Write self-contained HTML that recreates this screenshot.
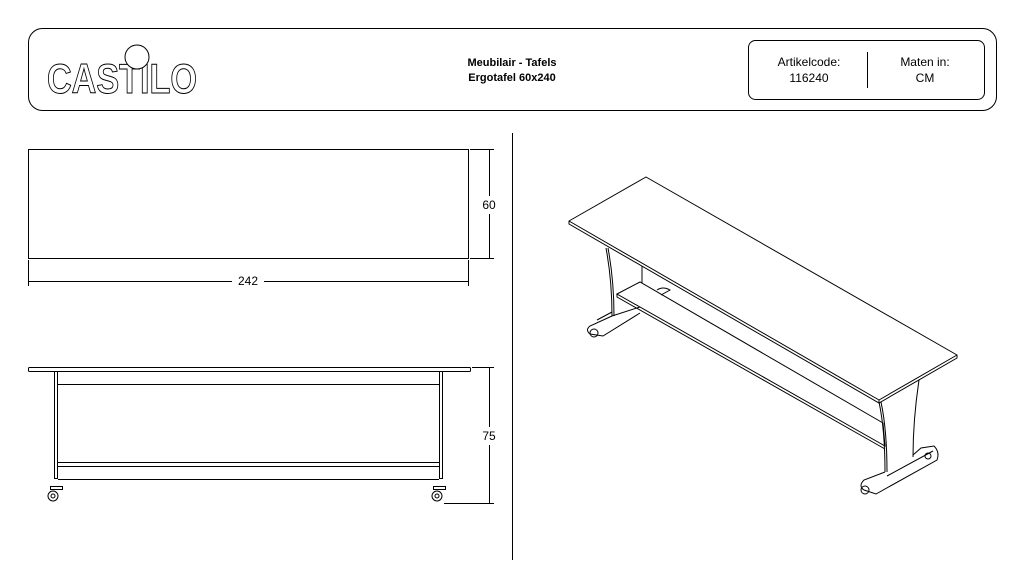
<!DOCTYPE html>
<html><head><meta charset="utf-8"><style>
body{margin:0;background:#fff;width:1024px;height:576px;overflow:hidden}
svg{display:block}
text{font-family:"Liberation Sans",Arial,sans-serif}
</style></head><body>
<svg width="1024" height="576" viewBox="0 0 1024 576" xmlns="http://www.w3.org/2000/svg">
<g fill="none" stroke="#000" stroke-width="1">
<rect x="28.5" y="28.5" width="968" height="82" rx="14"/>
<rect x="748.5" y="40.5" width="236" height="59" rx="7"/>
<line x1="867.5" y1="52" x2="867.5" y2="88"/>
<line x1="512.5" y1="133" x2="512.5" y2="560"/>
<!-- top view -->
<rect x="28.5" y="149.5" width="440" height="109"/>
<line x1="470" y1="149.5" x2="494" y2="149.5"/>
<line x1="470" y1="258.5" x2="494" y2="258.5"/>
<line x1="489.5" y1="150" x2="489.5" y2="196"/>
<line x1="489.5" y1="214" x2="489.5" y2="258"/>
<line x1="28.5" y1="260" x2="28.5" y2="286"/>
<line x1="468.5" y1="260" x2="468.5" y2="286"/>
<line x1="29" y1="281.5" x2="232" y2="281.5"/>
<line x1="264" y1="281.5" x2="468" y2="281.5"/>
<!-- side view -->
<rect x="28.5" y="367.5" width="442" height="4" rx="1"/>
<rect x="54.5" y="371.5" width="3" height="107"/>
<rect x="439.5" y="371.5" width="3" height="107"/>
<line x1="58" y1="384.5" x2="439" y2="384.5"/>
<line x1="58" y1="462.5" x2="439" y2="462.5"/>
<line x1="58" y1="466.5" x2="439" y2="466.5"/>
<line x1="58" y1="479.5" x2="439" y2="479.5"/>
<rect x="50.5" y="486.5" width="12" height="3"/>
<circle cx="53" cy="496" r="5"/><circle cx="53" cy="496" r="2"/>
<rect x="433.5" y="486.5" width="12" height="3"/>
<circle cx="437" cy="496" r="5"/><circle cx="437" cy="496" r="2"/>
<line x1="472" y1="367.5" x2="494" y2="367.5"/>
<line x1="444" y1="503.5" x2="494" y2="503.5"/>
<line x1="489.5" y1="368" x2="489.5" y2="427"/>
<line x1="489.5" y1="445" x2="489.5" y2="503"/>
<!-- iso -->
<path d="M569,221 L646,177 L957,355 L879,400 Z" stroke-linejoin="round"/>
<path d="M569,221 L569,224 L879,403 L957,358 L957,355"/>
<line x1="879" y1="400" x2="879" y2="403"/>
<path d="M606,248 Q612,280 612,316"/>
<path d="M608,248 Q614,280 614,316"/>
<line x1="642" y1="266" x2="642" y2="283"/>
<path d="M617,294 L640,282 L883,423 L885,446 Z"/>
<path d="M617,294 L617,297 L885,449"/>
<path d="M657,290 Q663,286 670,290 L661,295"/>
<path d="M612,316 L640,307 M597,320 L612,312 M612,316 L590,326 Q585,330 590,334 L603,336 L640,313"/>
<circle cx="594" cy="333" r="4"/>
<path d="M879,402 Q885,430 885,472"/>
<path d="M881,402 Q887,430 887,472"/>
<path d="M919,380 Q913,420 913,457"/>
<path d="M885,472 L864,480 Q858,486 864,490 L876,494 L937,460 Q940,452 934,446 L921,448 L913,455"/>
<line x1="887" y1="476" x2="933" y2="451"/>
<circle cx="865" cy="490" r="4"/>
<circle cx="928" cy="456" r="3"/>
</g>
<g fill="#000" font-size="12">
<text x="512" y="66" text-anchor="middle" font-weight="bold" font-size="11">Meubilair - Tafels</text>
<text x="512" y="81" text-anchor="middle" font-weight="bold" font-size="11">Ergotafel 60x240</text>
<text x="809" y="66" text-anchor="middle">Artikelcode:</text>
<text x="809" y="82" text-anchor="middle">116240</text>
<text x="925" y="66" text-anchor="middle">Maten in:</text>
<text x="925" y="82" text-anchor="middle">CM</text>
<text x="489" y="209" text-anchor="middle">60</text>
<text x="248" y="285" text-anchor="middle">242</text>
<text x="489" y="440" text-anchor="middle">75</text>
</g>
<text x="47" y="93" font-size="42" font-weight="bold" fill="#fff" stroke="#000" stroke-width="1" textLength="150" lengthAdjust="spacingAndGlyphs">CASTILO</text>
<circle cx="137" cy="57" r="12" fill="#fff" stroke="#000"/>
</svg>
</body></html>
